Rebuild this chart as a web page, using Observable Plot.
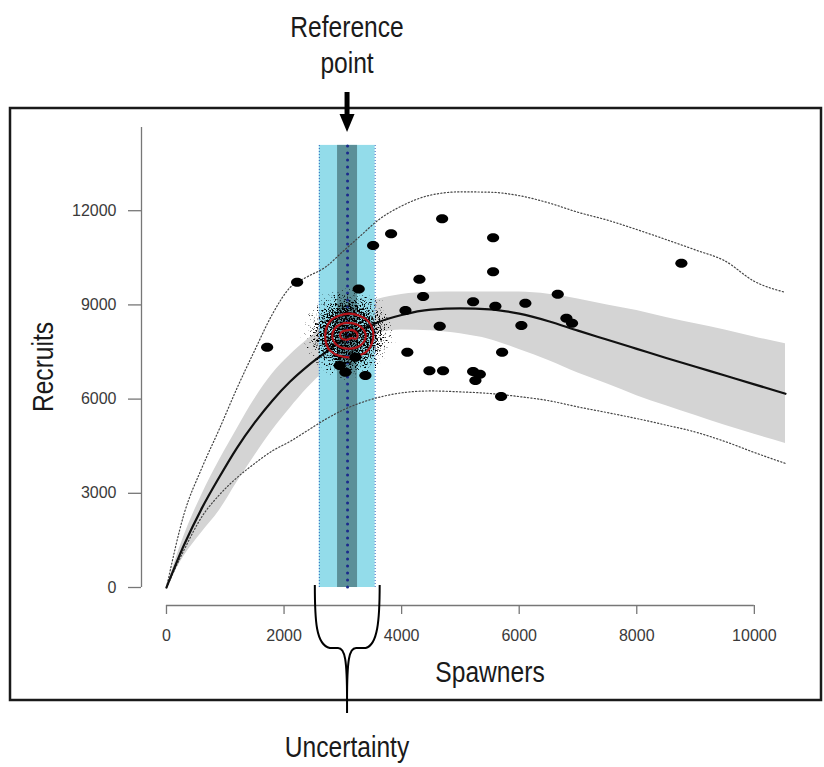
<!DOCTYPE html>
<html><head><meta charset="utf-8">
<script src="https://cdn.jsdelivr.net/npm/d3@7"></script>
<script src="https://cdn.jsdelivr.net/npm/@observablehq/plot@0.6"></script>
<style>
html,body{margin:0;padding:0;background:#fff;}
#chart svg{display:block;}
</style></head><body>
<svg width="0" height="0" style="position:absolute">
<defs>
<radialGradient id="cloudGrad">
 <stop offset="0" stop-color="#000" stop-opacity="1"/>
 <stop offset="0.5" stop-color="#000" stop-opacity="1"/>
 <stop offset="0.68" stop-color="#000" stop-opacity="0.84"/>
 <stop offset="0.84" stop-color="#000" stop-opacity="0.7"/>
 <stop offset="1" stop-color="#000" stop-opacity="0.5"/>
</radialGradient>
<filter id="speckle" x="0" y="0" width="1" height="1" color-interpolation-filters="sRGB">
 <feTurbulence type="fractalNoise" baseFrequency="0.6" numOctaves="2" seed="11" result="noise"/>
 <feColorMatrix in="noise" type="matrix" values="0 0 0 0 0  0 0 0 0 0  0 0 0 0 0  1 0 0 0 0" result="na"/>
 <feComposite in="na" in2="SourceGraphic" operator="arithmetic" k1="0" k2="6" k3="5" k4="-7.3"/>
</filter>
</defs></svg>
<div id="chart"></div>
<script>
// ---- axes ----
const xDomain = [-425, 10530];
const yDomain = [-573, 14650];
const xTicks = [0, 2000, 4000, 6000, 8000, 10000];
const yTicks = [0, 3000, 6000, 9000, 12000];
const xLabel = "Spawners";
const yLabel = "Recruits";
const refLabel = ["Reference", "point"];
const uncLabel = "Uncertainty";

// ---- stock-recruit curve ----
const spawnersGrid = [0, 300, 600, 900, 1200, 1500, 1800, 2100, 2400, 2700, 3000, 3300, 3600, 4000, 4500, 5000, 5500, 6000, 6500, 7000, 7500, 8000, 8500, 9000, 9500, 10000, 10530];
const medianRecruits = [0, 1360, 2520, 3520, 4450, 5250, 5950, 6550, 7050, 7480, 7880, 8200, 8450, 8680, 8850, 8890, 8860, 8720, 8480, 8180, 7890, 7600, 7310, 7030, 6750, 6470, 6170];
const ciLower = [0, 1000, 1750, 2450, 3350, 4200, 5000, 5700, 6350, 6900, 7350, 7750, 8100, 8200, 8180, 8080, 7900, 7580, 7230, 6830, 6480, 6110, 5790, 5480, 5170, 4880, 4590];
const ciUpper = [0, 1650, 2950, 4050, 5050, 6000, 6800, 7400, 7900, 8330, 8720, 9000, 9180, 9330, 9400, 9410, 9410, 9410, 9340, 9190, 9000, 8820, 8600, 8400, 8200, 7980, 7760];
const piLower = [0, 1200, 2250, 2950, 3500, 3950, 4350, 4650, 5000, 5350, 5650, 5880, 6050, 6200, 6260, 6230, 6180, 6080, 5950, 5750, 5570, 5380, 5170, 4950, 4650, 4300, 3950];
const piUpper = [0, 2350, 3800, 5050, 6350, 7550, 8700, 9550, 9900, 10200, 10700, 11200, 11700, 12150, 12500, 12600, 12590, 12480, 12250, 11950, 11700, 11400, 11080, 10750, 10400, 9750, 9400];

// ---- observed spawner-recruit pairs ----
const obsSpawners = [1712, 2222, 2947, 3044, 3214, 3270, 3384, 3515, 3821, 4065, 4097, 4303, 4365, 4473, 4648, 4689, 4705, 5216, 5216, 5255, 5330, 5556, 5556, 5595, 5692, 5709, 6037, 6105, 6656, 6803, 6899, 8759];
const obsRecruits = [7653, 9723, 7070, 6857, 7335, 9510, 6752, 10892, 11263, 8822, 7494, 9818, 9268, 6900, 8322, 11742, 6900, 9098, 6879, 6592, 6794, 11136, 10054, 8960, 6083, 7494, 8344, 9056, 9343, 8577, 8418, 10328];

// ---- reference point & uncertainty ----
const refPoint = 3080;
const uncertaintyOuter = [2600, 3550];
const uncertaintyInner = [2910, 3250];
const bandTop = 14080;
const cloudCenter = [3100, 8080];

// ---- posterior density contours ----
const contourLevel = [1,1,1,1,1,1,1,1, 2,2,2,2,2,2,2,2, 3,3,3,3,3,3,3,3];
const contourS = [3520, 3410, 3110, 2800, 2700, 2790, 3120, 3420,
                  3390, 3300, 3090, 2890, 2820, 2900, 3110, 3310,
                  3250, 3200, 3060, 2960, 2970, 3060, 3150, 3230];
const contourR = [8050, 8520, 8720, 8510, 8020, 7530, 7330, 7540,
                  8020, 8310, 8430, 8300, 8000, 7720, 7610, 7730,
                  8050, 8170, 8190, 8100, 7950, 7890, 7940, 7930];

// build tables
const curve = spawnersGrid.map((s, i) => ({s, med: medianRecruits[i], lo: ciLower[i], hi: ciUpper[i], pl: piLower[i], pu: piUpper[i]}));
const obs = obsSpawners.map((s, i) => ({s, r: obsRecruits[i]}));
const contours = contourLevel.map((l, i) => ({l, s: contourS[i], r: contourR[i]}));

const ellipseSymbol = {
  draw(context, size) {
    const r = Math.sqrt(size / Math.PI), rx = r * 1.35, ry = r, k = 0.5523;
    context.moveTo(rx, 0);
    context.bezierCurveTo(rx, ry * k, rx * k, ry, 0, ry);
    context.bezierCurveTo(-rx * k, ry, -rx, ry * k, -rx, 0);
    context.bezierCurveTo(-rx, -ry * k, -rx * k, -ry, 0, -ry);
    context.bezierCurveTo(rx * k, -ry, rx, -ry * k, rx, 0);
    context.closePath();
  }
};

const plot = Plot.plot({
  width: 824,
  height: 767,
  marginLeft: 141,
  marginRight: 39,
  marginTop: 127,
  marginBottom: 162,
  style: {fontFamily: "'Liberation Sans', Arial, sans-serif", fontSize: "16px", background: "#fff", color: "#333"},
  x: {domain: xDomain},
  y: {domain: yDomain},
  marks: [
    Plot.areaY(curve, {x: "s", y1: "lo", y2: "hi", fill: "#d4d4d4", curve: "monotone-x"}),
    Plot.rect([uncertaintyOuter], {x1: d => d[0], x2: d => d[1], y1: () => 0, y2: () => bandTop, fill: "#93dcea"}),
    Plot.rect([uncertaintyInner], {x1: d => d[0], x2: d => d[1], y1: () => 0, y2: () => bandTop, fill: "#5b8f98"}),
    Plot.ruleX(uncertaintyOuter, {x: d => d, y1: () => 0, y2: () => bandTop, stroke: "#3466c0", strokeWidth: 1, strokeDasharray: "1,2"}),
    Plot.ruleX([refPoint], {x: d => d, y1: () => 0, y2: () => bandTop, stroke: "#1b2a8c", strokeWidth: 3, strokeDasharray: "0,7", strokeLinecap: "round"}),
    Plot.line(curve, {x: "s", y: "pu", stroke: "#444", strokeWidth: 1.2, strokeDasharray: "1.2,2.2", curve: "monotone-x"}),
    Plot.line(curve, {x: "s", y: "pl", stroke: "#444", strokeWidth: 1.2, strokeDasharray: "1.2,2.2", curve: "monotone-x"}),
    Plot.line(curve, {x: "s", y: "med", stroke: "#111", strokeWidth: 2.2, curve: "monotone-x"}),
    Plot.dot([cloudCenter], {x: d => d[0], y: d => d[1], r: 49, fill: "url(#cloudGrad)", stroke: null}),
    Plot.line(contours, {x: "s", y: "r", z: "l", curve: "catmull-rom-closed", stroke: "#b3141a", strokeWidth: 2.2}),
    Plot.dot(obs, {x: "s", y: "r", r: 4.5, symbol: ellipseSymbol, fill: "#000", stroke: null}),
    // axes
    Plot.ruleY([yDomain[0]], {x1: xTicks[0], x2: xTicks[xTicks.length - 1], stroke: "#777", strokeWidth: 1.3}),
    Plot.ruleX([xDomain[0]], {y1: yTicks[0], y2: yDomain[1], stroke: "#777", strokeWidth: 1.3}),
    Plot.axisX(xTicks, {anchor: "bottom", tickSize: 9, tickPadding: 15, tickFormat: d => String(d), label: null, stroke: "#777", strokeWidth: 1.3, fill: "#3a3a3a"}),
    Plot.axisY(yTicks, {anchor: "left", tickSize: 13, tickPadding: 12, tickFormat: d => String(d), label: null, stroke: "#777", strokeWidth: 1.3, fill: "#3a3a3a"})
  ]
});

document.getElementById("chart").appendChild(plot);

// speckle texture for posterior sample cloud
d3.select(plot).selectAll('g[fill="url(#cloudGrad)"]').attr("filter", "url(#speckle)");

// annotations positioned through the scales
const X = plot.scale("x").apply;
const Y = plot.scale("y").apply;
const cx = X(refPoint), lx = X(uncertaintyOuter[0]) - 4, rx = X(uncertaintyOuter[1]) + 5;
const yBase = Y(0) - 2;
const g = d3.select(plot).append("g");
// outer frame
g.append("rect").attr("x", 10).attr("y", 108).attr("width", 811).attr("height", 592)
  .attr("fill", "none").attr("stroke", "#1a1a1a").attr("stroke-width", 2.5);
// arrow
g.append("line").attr("x1", cx).attr("x2", cx).attr("y1", 92).attr("y2", 118)
  .attr("stroke", "#000").attr("stroke-width", 5);
g.append("path").attr("d", `M${cx - 7.5},114L${cx + 7.5},114L${cx},132Z`).attr("fill", "#000");
// brace
const yMid = 648, yTip = 700, yEnd = 713;
const brace = `M${lx},${yBase} C${lx},${yBase + 35} ${lx + 1},${yMid - 3} ${lx + 15},${yMid}
 L${cx - 9},${yMid} C${cx - 2},${yMid} ${cx},${yMid + 12} ${cx},${yTip} L${cx},${yEnd}
 M${cx},${yTip} C${cx},${yMid + 12} ${cx + 2},${yMid} ${cx + 9},${yMid}
 L${rx - 14},${yMid} C${rx - 2},${yMid - 3} ${rx},${yBase + 35} ${rx},${yBase}`;
g.append("path").attr("d", brace).attr("fill", "none").attr("stroke", "#000").attr("stroke-width", 2);

// condensed annotation labels (Liberation Sans squeezed like a narrow face)
function label(text, x, y, rotate = 0) {
  g.append("text")
    .attr("transform", `translate(${x},${y}) rotate(${rotate}) scale(0.82,1)`)
    .attr("text-anchor", "middle")
    .attr("font-family", "'Liberation Sans', Arial, sans-serif")
    .attr("font-size", 30)
    .attr("fill", "#1a1a1a")
    .text(text);
}
label(refLabel[0], cx, 37);
label(refLabel[1], cx, 73);
label(uncLabel, cx, 757);
label(xLabel, 490, 682);
label(yLabel, 53, 367, -90);
</script>
</body></html>
